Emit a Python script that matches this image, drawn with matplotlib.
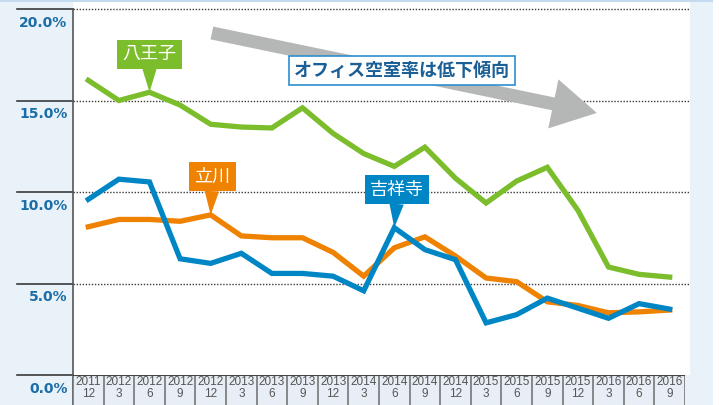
import numpy as np
import matplotlib.pyplot as plt
from matplotlib.patches import Rectangle
import matplotlib.transforms as mtransforms

plt.rcParams['font.family'] = ['Noto Sans CJK JP', 'DejaVu Sans']

# 時点 (年 / 月)
tick_years = ['2011', '2012', '2012', '2012', '2012', '2013', '2013', '2013', '2013',
              '2014', '2014', '2014', '2014', '2015', '2015', '2015', '2015',
              '2016', '2016', '2016']
tick_months = ['12', '3', '6', '9', '12', '3', '6', '9', '12',
               '3', '6', '9', '12', '3', '6', '9', '12',
               '3', '6', '9']

# オフィス空室率 (%)
hachioji = [16.1, 15.0, 15.45, 14.75, 13.7, 13.55, 13.5, 14.6, 13.2, 12.1,
            11.4, 12.45, 10.75, 9.4, 10.6, 11.35, 9.0, 5.9, 5.5, 5.35]
tachikawa = [8.1, 8.5, 8.5, 8.4, 8.75, 7.6, 7.5, 7.5, 6.7, 5.4,
             6.95, 7.55, 6.5, 5.3, 5.1, 4.0, 3.8, 3.4, 3.45, 3.55]
kichijoji = [9.6, 10.7, 10.55, 6.35, 6.1, 6.65, 5.55, 5.55, 5.4, 4.6,
             8.05, 6.85, 6.3, 2.85, 3.3, 4.2, 3.65, 3.1, 3.9, 3.6]
yticks = [0, 5, 10, 15, 20]

GREEN = '#7cbd2c'
ORANGE = '#ef8200'
BLUE = '#0086c5'
LABEL_BLUE = '#1c6ea6'
BG = '#e9f1f9'

W, H = 719, 405
fig = plt.figure(figsize=(W / 100, H / 100), dpi=100)
fig.patch.set_facecolor(BG)
fig.patches.append(Rectangle((0, 1 - 2 / H), 1, 2 / H, transform=fig.transFigure,
                             fc='#c4dbef', ec='none', zorder=0))
fig.patches.append(Rectangle((713 / W, 0), 6 / W, 1, transform=fig.transFigure,
                             fc='white', ec='none', zorder=0))

# plot area: x 73..690 px, y 2..375 px
step = 30.6
ax = fig.add_axes([73 / W, 30 / H, 617 / W, 373 / H])
ax.set_facecolor('white')
x = np.arange(len(tick_years))
ax.set_xlim(-0.5, -0.5 + 617 / step)
ax.set_ylim(0, 373 / 18.3)
for s in ax.spines.values():
    s.set_visible(False)
ax.set_xticks([])
ax.set_yticks([])

trans = mtransforms.blended_transform_factory(ax.transAxes, ax.transData)
for v in yticks:
    if v > 0:
        ax.plot([0, 1], [v, v], transform=trans, color='#3a3a3a', lw=1,
                ls=(0, (1, 1.2)), zorder=1, clip_on=False)
    ax.plot([-56 / 617, 0], [v, v], transform=trans, color='#3a3a3a', lw=1.2,
            zorder=1, clip_on=False)
    ax.annotate(f'{v:.1f}%', xy=(0, v), xycoords=trans, xytext=(-4, -5),
                textcoords='offset points', ha='right', va='top',
                fontsize=10, fontweight='bold', color=LABEL_BLUE,
                family='DejaVu Sans', annotation_clip=False)
ax.plot([0, 0], [-30 / 18.3, 20], transform=trans, color='#555555', lw=1.2,
        clip_on=False, zorder=2)

# trend arrow
ax.annotate('', xy=(16.62, 14.32), xytext=(4.04, 18.69),
            arrowprops=dict(arrowstyle='simple,head_length=32,head_width=36,tail_width=9.4',
                            mutation_scale=1, fc='#b5b6b6', ec='none',
                            shrinkA=0, shrinkB=0), zorder=2)
ax.text(10.25, 16.64, 'オフィス空室率は低下傾向', ha='center', va='center',
        fontsize=13, fontweight='bold', color='#1a5f96', zorder=6,
        bbox=dict(boxstyle='square,pad=0.3', fc='white', ec='#2a8fcf', lw=1.2))

ax.plot(x, tachikawa, color=ORANGE, lw=3.8, zorder=3, solid_joinstyle='miter')
ax.plot(x, kichijoji, color=BLUE, lw=3.8, zorder=3.5, solid_joinstyle='miter')
ax.plot(x, hachioji, color=GREEN, lw=3.8, zorder=4, solid_joinstyle='miter')


def callout(text, idx, series, color, dx=0):
    ax.annotate(text, xy=(idx, series[idx]), xytext=(dx, 21),
                textcoords='offset points', ha='center', va='bottom',
                fontsize=13, color='white', zorder=7,
                bbox=dict(boxstyle='square,pad=0.3', fc=color, ec='none'),
                arrowprops=dict(arrowstyle='wedge,tail_width=0.8,shrink_factor=0.5',
                                fc=color, ec='none', shrinkA=0, shrinkB=0,
                                relpos=(0.5, 0)))


callout('八王子', 2, hachioji, GREEN)
callout('立川', 4, tachikawa, ORANGE, dx=1)
callout('吉祥寺', 10, kichijoji, BLUE, dx=2)

# tick label boxes
bx = fig.add_axes([73 / W, 0, 612 / W, 30 / H])
bx.set_facecolor('#e8eef5')
bx.set_xlim(-0.5, len(tick_years) - 0.5)
bx.set_ylim(0, 30)
for s in bx.spines.values():
    s.set_visible(False)
bx.set_xticks([])
bx.set_yticks([])
for b in np.arange(len(tick_years) + 1) - 0.5:
    bx.axvline(b, color='#777777', lw=1.2)
bx.axhline(30, color='#444444', lw=1.5)
for i, (yy, mm) in enumerate(zip(tick_years, tick_months)):
    bx.text(i, 28.6, f'{yy}\n{mm}', ha='center', va='top', fontsize=8.5,
            linespacing=0.95, color='#555555',
            family=['Liberation Sans', 'DejaVu Sans'])

fig.savefig('out.png', dpi=100, facecolor=fig.get_facecolor())
